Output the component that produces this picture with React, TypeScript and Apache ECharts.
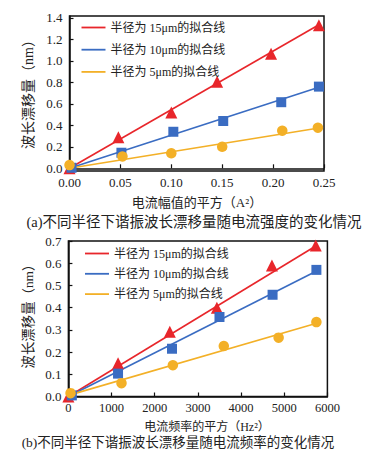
import React, { useEffect, useRef } from "react";
import * as echarts from "echarts";

// ---------- data ----------
const legendNames = ["半径为 15μm的拟合线", "半径为 10μm的拟合线", "半径为 5μm的拟合线"];

// (a) x: current amplitude squared (A²), y: wavelength shift (nm)
const a15Points = [[0, 0.0], [0.048, 0.29], [0.1, 0.52], [0.145, 0.805], [0.198, 1.065], [0.245, 1.33]];
const a10Points = [[0.002, 0.005], [0.051, 0.145], [0.102, 0.34], [0.151, 0.44], [0.208, 0.615], [0.245, 0.76]];
const a5Points = [[0.0, 0.03], [0.052, 0.11], [0.1, 0.14], [0.15, 0.2], [0.209, 0.35], [0.244, 0.378]];
const a15Fit = [[0, 0.0], [0.245, 1.335]];
const a10Fit = [[0, 0.0], [0.245, 0.755]];
const a5Fit = [[0, 0.0], [0.245, 0.375]];
const aYTicks = [0, 0.2, 0.4, 0.6, 0.8, 1.0, 1.2, 1.4];

// (b) x: current frequency squared (Hz²), y: wavelength shift (nm)
const b15Points = [[0, 0.0], [1150, 0.15], [2350, 0.292], [3440, 0.4], [4715, 0.59], [5730, 0.68]];
const b10Points = [[80, 0.005], [1150, 0.103], [2400, 0.215], [3500, 0.358], [4730, 0.458], [5745, 0.57]];
const b5Points = [[50, 0.015], [1230, 0.06], [2420, 0.141], [3600, 0.227], [4870, 0.265], [5745, 0.335]];
const b15Fit = [[0, 0.0], [5750, 0.68]];
const b10Fit = [[0, 0.0], [5750, 0.565]];
const b5Fit = [[0, 0.005], [5750, 0.33]];

const captionA = "(a)不同半径下谐振波长漂移量随电流强度的变化情况";
const captionB = "(b)不同半径下谐振波长漂移量随电流频率的变化情况";
const xNameA = "电流幅值的平方（A²）";
const xNameB = "电流频率的平方（Hz²）";
const yName = "波长漂移量（nm）";

const RED = "#e8262b";
const BLUE = "#3a6cc2";
const ORANGE = "#f3b027";
const FONT = "'Liberation Serif', 'Noto Sans CJK SC', serif";
const TEXT = "#222";

function App() {
  const ref = useRef<HTMLDivElement>(null);
  useEffect(() => {
    if (!ref.current) return;
    const chart = echarts.init(ref.current, null, { renderer: "svg" });

    const axisCommon = {
      axisLine: { show: true, lineStyle: { color: "#111", width: 1.5 } },
      axisTick: { show: true, inside: true, length: 4, lineStyle: { color: "#111", width: 1.2 } },
      splitLine: { show: false },
    };
    const fit = (name: string, data: number[][], color: string, gi: number) => ({
      name,
      type: "line",
      xAxisIndex: gi,
      yAxisIndex: gi,
      data,
      symbol: "none",
      showSymbol: false,
      lineStyle: { color, width: 1.6 },
      itemStyle: { color },
      z: 2,
    });
    const pts = (name: string, data: number[][], color: string, symbol: string, size: number, gi: number) => ({
      name,
      type: "scatter",
      xAxisIndex: gi,
      yAxisIndex: gi,
      data,
      symbol,
      symbolSize: size,
      itemStyle: { color, opacity: 1 },
      z: 3,
    });
    const legendCommon = {
      orient: "vertical",
      padding: 0,
      icon: "rect",
      itemWidth: 24,
      itemHeight: 1.8,
      textStyle: { fontFamily: FONT, fontSize: 12, color: TEXT, lineHeight: 14 },
      selectedMode: false,
    };

    chart.setOption({
      animation: false,
      backgroundColor: "#fff",
      grid: [
        { left: 69.5, top: 16, width: 254.5, height: 155, show: true, borderColor: "#111", borderWidth: 1.5, containLabel: false },
        { left: 68.4, top: 241, width: 259, height: 155.5, show: true, borderColor: "#111", borderWidth: 1.5, containLabel: false },
      ],
      xAxis: [
        {
          gridIndex: 0, type: "value", min: 0, max: 0.25, interval: 0.05, ...axisCommon,
          axisLabel: { margin: 5, fontFamily: FONT, fontSize: 13, color: TEXT, formatter: (v: number) => v.toFixed(2) },
        },
        {
          gridIndex: 1, type: "value", min: 0, max: 6000, interval: 1000, ...axisCommon,
          axisLabel: { margin: 5, fontFamily: FONT, fontSize: 12.5, color: TEXT, formatter: (v: number) => String(Math.round(v)) },
        },
      ],
      yAxis: [
        {
          gridIndex: 0, type: "value", min: -0.025, max: 1.417, ...axisCommon,
          axisTick: { ...axisCommon.axisTick, customValues: aYTicks },
          axisLabel: { margin: 7, fontFamily: FONT, fontSize: 13, color: TEXT, customValues: aYTicks, formatter: (v: number) => v.toFixed(1) },
        },
        {
          gridIndex: 1, type: "value", min: 0, max: 0.7, interval: 0.1, ...axisCommon,
          axisLabel: { margin: 7, fontFamily: FONT, fontSize: 13, color: TEXT, formatter: (v: number) => v.toFixed(1) },
        },
      ],
      legend: [
        { ...legendCommon, left: 81.5, top: 20.5, itemGap: 8.2, data: legendNames.map((n) => n) },
        { ...legendCommon, left: 85, top: 246.5, itemGap: 6.3, data: legendNames.map((n) => n + " ") },
      ],
      series: [
        fit(legendNames[0], a15Fit, RED, 0),
        fit(legendNames[1], a10Fit, BLUE, 0),
        fit(legendNames[2], a5Fit, ORANGE, 0),
        pts("a15", a15Points, RED, "triangle", 12, 0),
        pts("a10", a10Points, BLUE, "rect", 10, 0),
        pts("a5", a5Points, ORANGE, "circle", 10.5, 0),
        fit(legendNames[0] + " ", b15Fit, RED, 1),
        fit(legendNames[1] + " ", b10Fit, BLUE, 1),
        fit(legendNames[2] + " ", b5Fit, ORANGE, 1),
        pts("b15", b15Points, RED, "triangle", 12, 1),
        pts("b10", b10Points, BLUE, "rect", 10, 1),
        pts("b5", b5Points, ORANGE, "circle", 10.5, 1),
      ],
      graphic: [
        { type: "text", x: 197, y: 202, style: { text: xNameA, font: `13px ${FONT}`, fill: TEXT, align: "center", verticalAlign: "middle" } },
        { type: "text", x: 194, y: 222, style: { text: captionA, font: `14.5px ${FONT}`, fill: TEXT, align: "center", verticalAlign: "middle" } },
        { type: "text", x: 207, y: 427, style: { text: xNameB, font: `12px ${FONT}`, fill: TEXT, align: "center", verticalAlign: "middle" } },
        { type: "text", x: 178, y: 442, style: { text: captionB, font: `13.5px ${FONT}`, fill: TEXT, align: "center", verticalAlign: "middle" } },
        { type: "text", x: 28, y: 91, rotation: Math.PI / 2, style: { text: yName, font: `14px ${FONT}`, fill: TEXT, align: "center", verticalAlign: "middle" } },
        { type: "text", x: 28, y: 313, rotation: Math.PI / 2, style: { text: yName, font: `13.4px ${FONT}`, fill: TEXT, align: "center", verticalAlign: "middle" } },
      ],
    });
    return () => chart.dispose();
  }, []);
  return (
    <div
      ref={ref}
      style={{ position: "fixed", left: 0, top: 0, width: 370, height: 458, background: "#fff" }}
    />
  );
}

export default App;
